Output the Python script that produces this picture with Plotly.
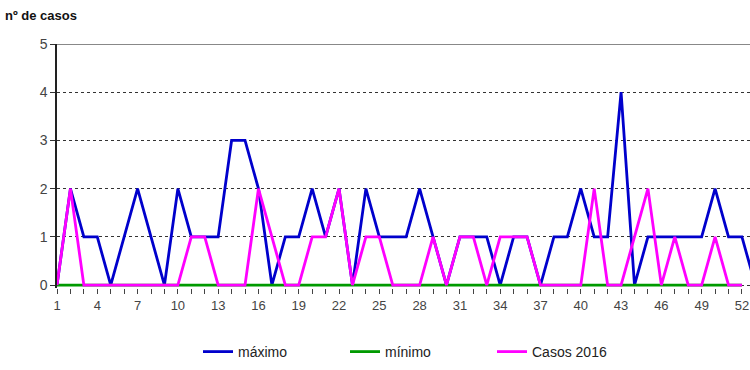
import plotly.graph_objects as go

weeks = list(range(1, 53))
weeks_max = list(range(1, 54))

maximo = [0, 2, 1, 1, 0, 1, 2, 1, 0, 2,
          1, 1, 1, 3, 3, 2, 0, 1, 1, 2,
          1, 2, 0, 2, 1, 1, 1, 2, 1, 0,
          1, 1, 1, 0, 1, 1, 0, 1, 1, 2,
          1, 1, 4, 0, 1, 1, 1, 1, 1, 2,
          1, 1, 0]

minimo = [0] * 52

casos_2016 = [0, 2, 0, 0, 0, 0, 0, 0, 0, 0,
              1, 1, 0, 0, 0, 2, 1, 0, 0, 1,
              1, 2, 0, 1, 1, 0, 0, 0, 1, 0,
              1, 1, 0, 1, 1, 1, 0, 0, 0, 0,
              2, 0, 0, 1, 2, 0, 1, 0, 0, 1,
              0, 0]

x_tickvals = list(range(1, 53, 3))
y_tickvals = [0, 1, 2, 3, 4, 5]

fig = go.Figure()
fig.add_trace(go.Scatter(x=weeks_max, y=maximo, mode="lines", name="máximo",
                         line=dict(color="#0000CC", width=2.8)))
fig.add_trace(go.Scatter(x=weeks, y=minimo, mode="lines", name="mínimo",
                         line=dict(color="#009A00", width=2.8)))
fig.add_trace(go.Scatter(x=weeks, y=casos_2016, mode="lines", name="Casos 2016",
                         line=dict(color="#FF00FF", width=2.8)))

fig.update_layout(
    width=750, height=370,
    margin=dict(l=57, r=0, t=44, b=82),
    paper_bgcolor="white", plot_bgcolor="white",
    font=dict(family="Liberation Sans, Arial, sans-serif", size=12, color="#333333"),
    title=dict(text="<b>nº de casos</b>", x=5/750, xanchor="left", xref="container",
               y=1-15/370, yanchor="middle", yref="container",
               font=dict(size=13, color="#111111", family="Liberation Sans, Arial, sans-serif")),
    showlegend=True,
    legend=dict(orientation="h", xref="container", yref="container",
                x=0.558, xanchor="center", y=1-352/370, yanchor="middle",
                font=dict(size=14, color="#222222"), entrywidth=102, entrywidthmode="pixels"),
    xaxis=dict(range=[1, 52.6], tickvals=x_tickvals, ticks="outside", ticklen=5,
               tickcolor="#444444", showgrid=False, zeroline=False, showline=False,
               ticklabeloverflow="allow",
               tickfont=dict(size=13, color="#444444"),
               minor=dict(dtick=1, tick0=1, ticks="outside", ticklen=5, tickcolor="#444444",
                          showgrid=False)),
    yaxis=dict(range=[-0.06, 5], tickvals=y_tickvals, ticks="outside", ticklen=5,
               tickcolor="#333333", showgrid=True, gridcolor="#333333", griddash="dot",
               gridwidth=1, zeroline=False, showline=True, linecolor="#222222", linewidth=1.5,
               tickfont=dict(size=14, color="#444444")),
    shapes=[dict(type="line", xref="paper", yref="y", x0=0, x1=1, y0=5, y1=5,
                 line=dict(color="#888888", width=2), layer="above")],
)

fig.write_html("out.html", config={"displayModeBar": False},
               post_script="document.body.style.margin='0';document.body.style.overflow='hidden';")
